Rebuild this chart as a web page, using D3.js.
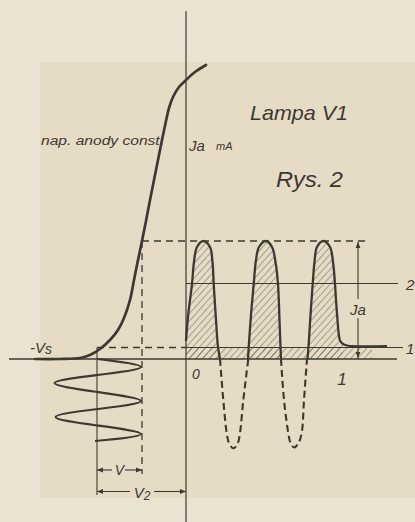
<!DOCTYPE html>
<html>
<head>
<meta charset="utf-8">
<script src="https://cdn.jsdelivr.net/npm/d3@7"></script>
<style>
  html, body { margin: 0; padding: 0; background: #ebe3d2; }
  svg { display: block; }
  text { font-family: "Liberation Sans", "DejaVu Sans", sans-serif; font-style: italic; fill: #3d3832; }
</style>
</head>
<body>
<svg id="chart" width="415" height="522"></svg>
<script>
// Rys. 2 – lampa V1. Values.
// u = right of the Ja axis, v = above the -Vs base line (one unit ~ one drawing pixel)

// anode current vs grid voltage (nap. anody const.)
const characteristic = [
  [-151, 0], [-126, 0], [-106, 1], [-96, 4], [-86, 10], [-76, 19], [-68, 29], [-62, 41],
  [-56, 59], [-52, 79], [-48, 99], [-44, 118], [-40, 138], [-36, 159], [-32, 179],
  [-28, 199], [-24, 219], [-20, 238], [-17, 251], [-13, 262], [-7, 272], [0, 279], [9, 287], [20, 294]
];

// grid signal drawn downwards under the bias point
const gridWave = [
  [-88.5, 0], [-45, -8], [-88.5, -16], [-131.5, -24], [-88.5, -33], [-45, -42],
  [-88.5, -50], [-130.5, -58], [-88.5, -66.5], [-45, -75], [-91, -82]
];

// anode current pulses (solid, hatched) and the cut-off halves (dashed)
const pulse1 = [[0, 18], [2, 42], [4, 59], [6, 75], [8, 97], [11, 112], [17.5, 118], [24, 112],
  [26.5, 97], [27.7, 75], [30, 39], [32, 12], [34, 0]];
const pulse2 = [[62, 0], [62.7, 12], [65, 44], [67.7, 75], [70, 99], [73, 112], [80, 118], [86, 112],
  [89.5, 97], [92, 75], [93.5, 39], [94.5, 12], [95, 0]];
const pulse3 = [[121.5, 0], [122.5, 12], [124.5, 44], [126.7, 75], [128.5, 97], [131, 112], [137.3, 118],
  [144, 112], [147, 97], [149, 75], [150, 59], [151.5, 39], [152.5, 27], [154, 18.5], [157, 15],
  [161, 13.5], [166, 12.8], [201, 12.8]];
const cutoff1 = [[34, 0], [37.3, -41], [40.7, -74], [43, -84], [47.3, -89.3], [51.5, -85], [54, -74], [57.3, -41], [62.3, 0]];
const cutoff2 = [[95, 0], [98, -41], [102.3, -74], [104.5, -84], [108.3, -88.5], [112.5, -84], [115.7, -74], [118, -41], [121, 0]];

// levels (v) and grid marks (u)
const levelPeak = 118, level2 = 75.5, level1 = 11.5;
const biasU = -89, swingU = -44;
const timeTicks = [{ u: 0, label: '0' }, { u: 156, label: '1' }];

const W = 415, H = 522;
const ink = '#3d3832';
const svg = d3.select('#chart');

const x = d3.scaleLinear().domain([-186, 229]).range([0, W]);
const y = d3.scaleLinear().domain([-163, 359]).range([H, 0]);

// paper
svg.append('rect').attr('width', W).attr('height', H).attr('fill', '#ebe3d2');
svg.append('rect').attr('x', 40).attr('y', 62).attr('width', W - 40).attr('height', 436).attr('fill', '#e6dbc5');

const defs = svg.append('defs');
defs.append('pattern')
  .attr('id', 'hatch').attr('patternUnits', 'userSpaceOnUse')
  .attr('width', 5).attr('height', 5).attr('patternTransform', 'rotate(42)')
  .append('line').attr('x1', 0).attr('y1', 0).attr('x2', 0).attr('y2', 5)
  .attr('stroke', ink).attr('stroke-width', 0.9).attr('stroke-opacity', 0.85);

const line = d3.line().x(d => x(d[0])).y(d => y(d[1])).curve(d3.curveCatmullRom.alpha(0.5));

// hatched areas: pulses down to the base line + strip up to level 1
const closed = pts => line(pts) + `L${x(pts[pts.length - 1][0])},${y(0)}L${x(pts[0][0])},${y(0)}Z`;
const hatch = svg.append('g').attr('fill', 'url(#hatch)');
[pulse1, pulse2, pulse3.slice(0, 15)].forEach(p => hatch.append('path').attr('d', closed(p)));
hatch.append('rect')
  .attr('x', x(0)).attr('y', y(level1))
  .attr('width', x(186) - x(0)).attr('height', y(0) - y(level1));

const g = svg.append('g').attr('stroke', ink).attr('fill', 'none');

const hline = (v, u0, u1, w, dash) => g.append('line')
  .attr('x1', x(u0)).attr('x2', x(u1)).attr('y1', y(v)).attr('y2', y(v))
  .attr('stroke-width', w).attr('stroke-dasharray', dash || null);
const vline = (u, v0, v1, w, dash) => g.append('line')
  .attr('x1', x(u)).attr('x2', x(u)).attr('y1', y(v0)).attr('y2', y(v1))
  .attr('stroke-width', w).attr('stroke-dasharray', dash || null);

// axes
vline(0, 348, -163, 1.2);
hline(0, -177, 211, 1.3);

// levels
hline(levelPeak, swingU, 182, 1.3, '7,5');
hline(level2, 0, 212, 1.1);
hline(level1, biasU, 0, 1.3, '7,5');
hline(level1, 0, 217, 1.1);

// grid bias and swing
vline(biasU, level1, -136, 1.1);
vline(swingU, levelPeak, -115, 1.3, '7,5');

// Ja dimension
vline(172, levelPeak - 1, 60, 1.1);
vline(172, 41, 0, 1.1);

const arrow = (u, v, dir) => {
  // dir: [dx, dy] in screen space, tip at (u, v)
  const px = x(u), py = y(v), L = 6, Wd = 2.4;
  const bx = px - dir[0] * L, by = py - dir[1] * L;
  svg.append('path')
    .attr('d', `M${px},${py}L${bx - dir[1] * Wd},${by + dir[0] * Wd}L${bx + dir[1] * Wd},${by - dir[0] * Wd}Z`)
    .attr('fill', ink);
};
arrow(172, levelPeak - 1, [0, -1]);
arrow(172, 1, [0, 1]);

// V and V2 dimensions
const dimV = -111, dimV2 = -132.5;
hline(dimV, biasU, -74, 1.1);
hline(dimV, -61, swingU, 1.1);
arrow(biasU, dimV, [-1, 0]);
arrow(swingU, dimV, [1, 0]);
hline(dimV2, biasU, -56, 1.1);
hline(dimV2, -32, 0, 1.1);
arrow(biasU, dimV2, [-1, 0]);
arrow(0, dimV2, [1, 0]);

// curves
g.append('path').attr('d', line(characteristic)).attr('stroke-width', 2.7).attr('stroke-linecap', 'round');
g.append('path').attr('d', d3.line().x(d => x(d[0])).y(d => y(d[1])).curve(d3.curveNatural)(gridWave))
  .attr('stroke-width', 2.1);
[pulse1, pulse2, pulse3].forEach(p => g.append('path').attr('d', line(p)).attr('stroke-width', 2.3));
[cutoff1, cutoff2].forEach(p => g.append('path').attr('d', line(p))
  .attr('stroke-width', 2.1).attr('stroke-dasharray', '7,4'));

// texts
const txt = (px, py, s, size, opts = {}) => {
  const t = svg.append('text').attr('x', px).attr('y', py).attr('font-size', size).text(s);
  if (opts.anchor) t.attr('text-anchor', opts.anchor);
  if (opts.len) t.attr('textLength', opts.len).attr('lengthAdjust', 'spacingAndGlyphs');
  return t;
};

txt(41, 145, 'nap. anody const.', 12, { len: 123 });
txt(x(3), 151, 'Ja', 15);
txt(x(30), 150, 'mA', 11);
txt(250, 120, 'Lampa V1', 21, { len: 98 });
txt(276, 187, 'Rys. 2', 22, { len: 67 });

const vs = txt(30, 353, '-V', 15);
vs.append('tspan').attr('font-size', 14).attr('dy', 1).text('s');

timeTicks.forEach(t => txt(x(t.u) + (t.u === 0 ? 6 : 0), y(0) + (t.u === 0 ? 20 : 26), t.label,
  t.u === 0 ? 14 : 17, { anchor: t.u === 0 ? 'start' : 'middle' }));

txt(x(218) + 2, y(level2) + 6, '2', 15);
txt(x(218) + 2, y(level1) + 6, '1', 15);
txt(x(172), y(50) + 6, 'Ja', 15, { anchor: 'middle' });

txt(x((biasU + swingU) / 2), y(dimV) + 5, 'V', 14, { anchor: 'middle' });
const v2 = txt(x(-44), y(dimV2) + 6, 'V', 15, { anchor: 'middle' });
v2.append('tspan').attr('font-size', 12).attr('dy', 2).text('2');
</script>
</body>
</html>
